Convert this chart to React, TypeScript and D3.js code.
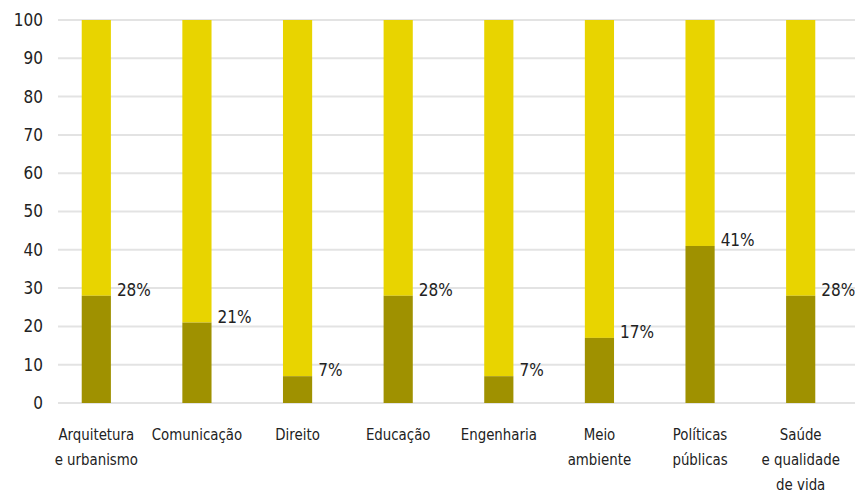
import React from 'react';
import * as d3 from 'd3';

const categories = [
  ['Arquitetura', 'e urbanismo'],
  ['Comunicação'],
  ['Direito'],
  ['Educação'],
  ['Engenharia'],
  ['Meio', 'ambiente'],
  ['Políticas', 'públicas'],
  ['Saúde', 'e qualidade', 'de vida'],
];
const shares = [28, 21, 7, 28, 7, 17, 41, 28];
const yTicks = [0, 10, 20, 30, 40, 50, 60, 70, 80, 90, 100];

const W = 855;
const H = 494;
const FONT = "'Liberation Sans Narrow', 'DejaVu Sans Condensed', 'Roboto Condensed', 'Noto Sans', sans-serif";
const DARK = '#9f9100';
const LIGHT = '#e8d400';

export default function App() {
  const x = d3.scaleBand<number>()
    .domain(d3.range(categories.length))
    .range([46, 851])
    .paddingInner(0.71)
    .paddingOuter(0.355);
  const y = d3.scaleLinear().domain([0, 100]).range([403, 20]);

  return (
    <svg width={W} height={H} style={{ position: 'absolute', left: 0, top: 0, fontFamily: FONT, fontStretch: 'condensed' }}>
      {yTicks.map((t) => (
        <g key={t}>
          <line x1={58} x2={W} y1={y(t)} y2={y(t)} stroke="#e3e3e3" strokeWidth={2} />
          <text x={43} y={y(t)} dy="0.35em" textAnchor="end" fontSize={17} fill="#222">{t}</text>
        </g>
      ))}
      {shares.map((v, i) => {
        const cx = (x(i) ?? 0) + x.bandwidth() / 2;
        return (
          <g key={i}>
            <rect x={x(i)} width={x.bandwidth()} y={y(100)} height={y(v) - y(100)} fill={LIGHT} />
            <rect x={x(i)} width={x.bandwidth()} y={y(v)} height={y(0) - y(v)} fill={DARK} />
            <text x={(x(i) ?? 0) + x.bandwidth() + 6} y={y(v) - 6} dy="0.35em" fontSize={17} fill="#222">{v}%</text>
            {categories[i].map((line, j) => (
              <text key={j} transform={`translate(${cx},${434 + j * 25}) scale(0.9,1)`} dy="0.35em" textAnchor="middle" fontSize={16.5} fill="#222">{line}</text>
            ))}
          </g>
        );
      })}
    </svg>
  );
}
